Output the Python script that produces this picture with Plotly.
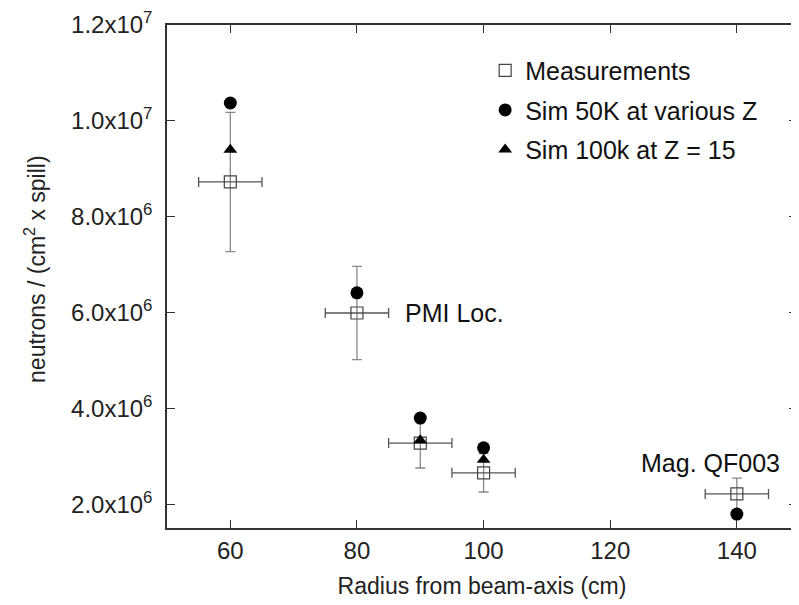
import plotly.graph_objects as go

# Data
meas_x = [60, 80, 90, 100, 140]
meas_y = [8.73e6, 6.0e6, 3.29e6, 2.67e6, 2.23e6]
meas_yerr = [1.45e6, 0.97e6, 0.52e6, 0.40e6, 0.33e6]
meas_xerr = [5, 5, 5, 5, 5]

sim50_x = [60, 80, 90, 100, 140]
sim50_y = [1.0375e7, 6.42e6, 3.81e6, 3.19e6, 1.81e6]

sim100_x = [60, 90, 100]
sim100_y = [9.4e6, 3.35e6, 2.94e6]

ytick_vals = [2e6, 4e6, 6e6, 8e6, 1.0e7, 1.2e7]
ytick_text = ["2.0x10<sup>6</sup>", "4.0x10<sup>6</sup>", "6.0x10<sup>6</sup>",
              "8.0x10<sup>6</sup>", "1.0x10<sup>7</sup>", "1.2x10<sup>7</sup>"]
xtick_vals = [60, 80, 100, 120, 140]

FONT = "Liberation Sans, Arial, sans-serif"

fig = go.Figure()
fig.add_trace(go.Scatter(
    x=meas_x, y=meas_y, mode="markers", name="Measurements",
    legendgroup="a",
    marker=dict(symbol="square-open", size=12, color="#444", line=dict(width=1.2)),
    error_y=dict(type="data", array=meas_yerr, color="#888", thickness=1.3, width=5),
    error_x=dict(type="data", array=meas_xerr, color="#555", thickness=1.3, width=5),
))
fig.add_trace(go.Scatter(
    x=sim50_x, y=sim50_y, mode="markers", name="Sim 50K at various Z",
    legendgroup="b",
    marker=dict(symbol="circle", size=13, color="black"),
))
fig.add_trace(go.Scatter(
    x=sim100_x, y=sim100_y, mode="markers", name="Sim 100k at Z = 15",
    legendgroup="c",
    marker=dict(symbol="triangle-up", size=12, color="black"),
))

fig.add_annotation(x=87.3, y=6.0e6, text="PMI Loc.", showarrow=False,
                   xanchor="left", yanchor="middle",
                   font=dict(size=25, color="#111", family=FONT))
fig.add_annotation(x=124.5, y=2.88e6, text="Mag. QF003", showarrow=False,
                   xanchor="left", yanchor="middle",
                   font=dict(size=25, color="#111", family=FONT))
# y-axis title placed precisely
fig.add_annotation(xref="paper", yref="paper", x=0, y=0.515, xshift=-132,
                   text="neutrons / (cm<sup>2</sup> x spill)", textangle=-90,
                   showarrow=False, xanchor="center", yanchor="middle",
                   font=dict(size=23, color="#222", family=FONT))

axis_common = dict(
    showgrid=False, zeroline=False, showline=True, linecolor="#333",
    linewidth=1.5, mirror="ticks", ticks="inside", ticklen=8,
    tickcolor="#333", tickwidth=1, automargin=False,
    ticklabeloverflow="allow",
)

# page body adds an 8px offset; compensate in size and margins
fig.update_layout(
    width=791, height=597,
    paper_bgcolor="white", plot_bgcolor="white",
    margin=dict(l=159, r=2, t=17, b=77),
    font=dict(family=FONT, color="#222"),
    xaxis=dict(range=[50, 149.5], tickvals=xtick_vals,
               tickfont=dict(size=24, color="#222", family=FONT),
               title=dict(text="Radius from beam-axis (cm)",
                          font=dict(size=23, family=FONT)),
               **axis_common),
    yaxis=dict(range=[1.52e6, 1.2e7], tickvals=ytick_vals, ticktext=ytick_text,
               ticklabelstandoff=8,
               tickfont=dict(size=24, color="#222", family=FONT),
               **axis_common),
    legend=dict(x=0.505, y=0.955, xanchor="left", yanchor="top",
                bgcolor="rgba(0,0,0,0)", tracegroupgap=4,
                font=dict(size=25, family=FONT, color="#111")),
    showlegend=True,
)

fig.write_html("out.html")
